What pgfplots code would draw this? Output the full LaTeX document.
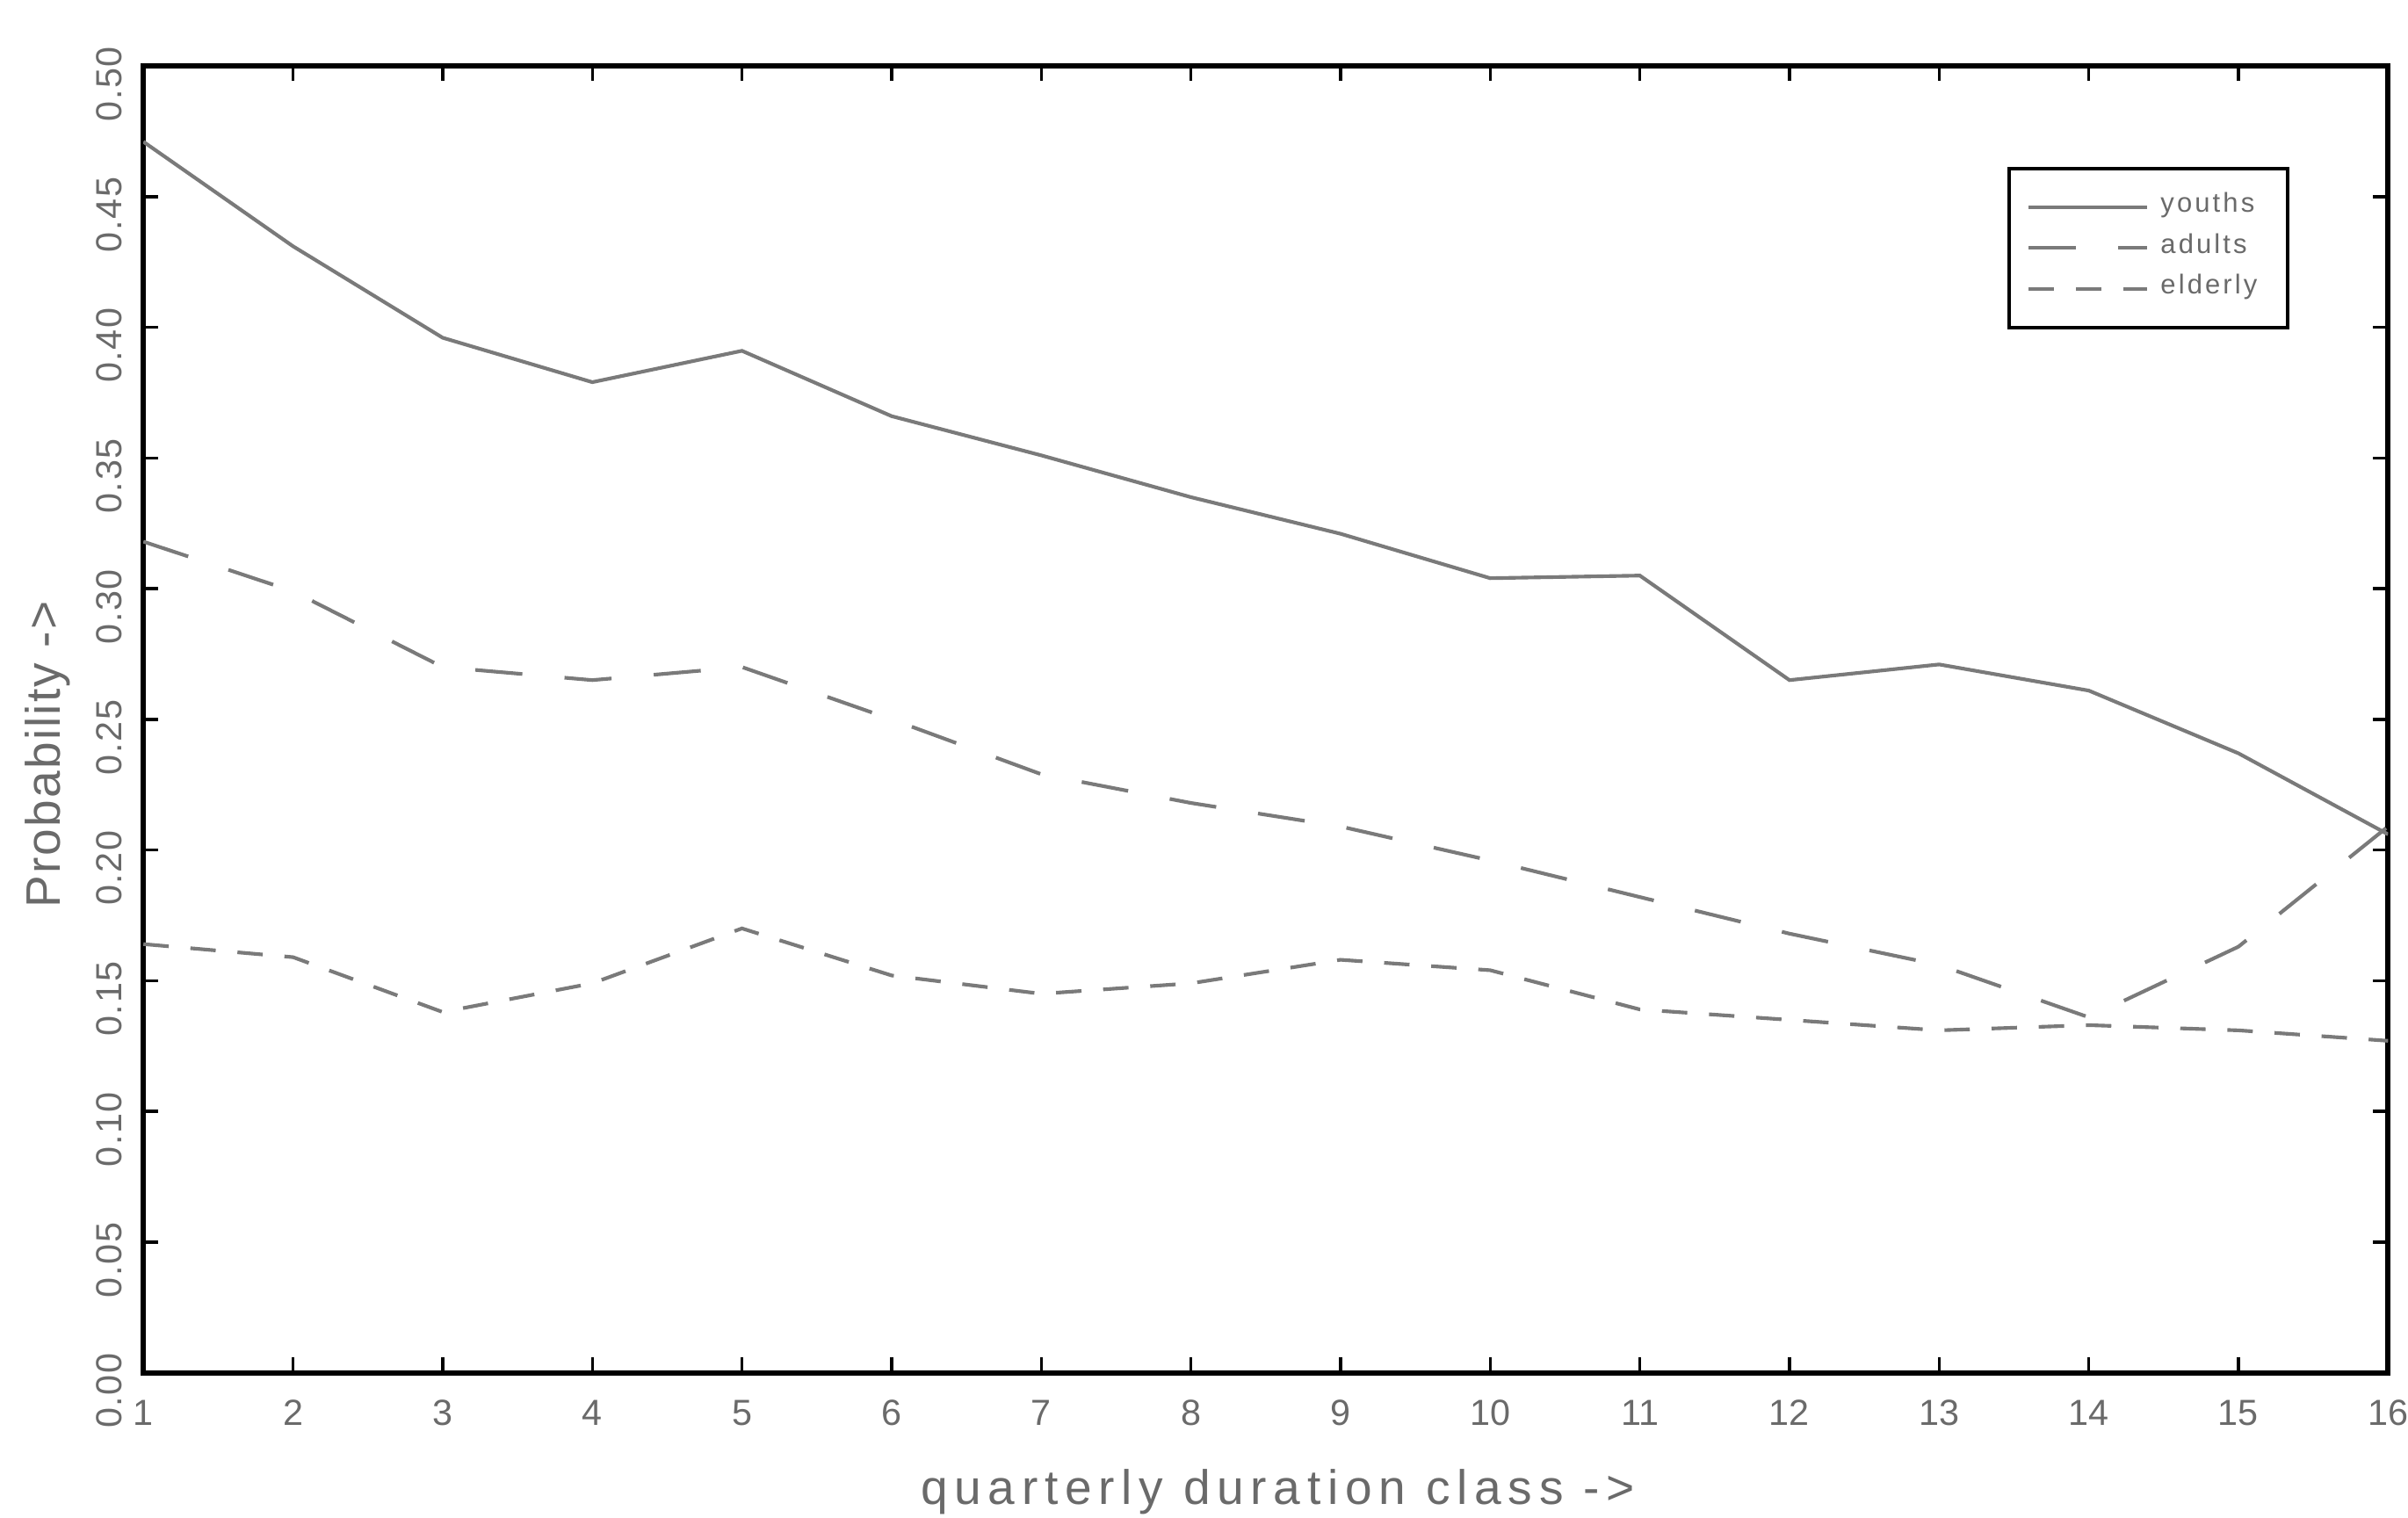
\documentclass[border=0pt]{standalone}
\usepackage{fontspec}
\setmainfont{Liberation Sans}
\usepackage{pgfplots}
\pgfplotsset{compat=1.18}
\definecolor{lgray}{HTML}{7A7A7A}
\definecolor{tgray}{HTML}{6A6A6A}
\begin{document}
\begin{tikzpicture}
\useasboundingbox (-23.7pt,-24pt) rectangle (374.3pt,226.9pt);
\begin{axis}[
  scale only axis,
  width=371pt, height=216pt,
  at={(0pt,0pt)}, anchor=south west,
  xmin=1, xmax=16, ymin=0, ymax=0.5,
  xtick={1,...,16},
  ytick={0,0.05,...,0.5},
  tick align=inside,
  major tick length=2.5pt,
  tick style={black, line width=0.5pt},
  axis line style={black, line width=0.9pt},
  /pgf/number format/assume math mode=true,
  yticklabel={\pgfmathprintnumber[fixed,fixed zerofill,precision=2]{\tick}},
  yticklabel style={rotate=90, anchor=south, xshift=-3pt, font=\fontsize{6}{7}\selectfont\addfontfeatures{LetterSpace=4}, text=tgray},
  xticklabel style={font=\fontsize{6}{7}\selectfont, text=tgray, yshift=-1pt},
  xlabel={quarterly duration class ->},
  ylabel={Probability ->},
  xlabel style={font=\fontsize{8}{9.5}\selectfont\addfontfeatures{LetterSpace=14}, text=tgray, yshift=-0.3pt, xshift=2pt},
  ylabel style={at={(ticklabel cs:0.473)}, font=\fontsize{8}{9.5}\selectfont\addfontfeatures{LetterSpace=4}, text=tgray, yshift=-2.5pt},
  legend cell align=left,
  legend style={at={(0.956,0.923)}, anchor=north east, draw=black, line width=0.6pt,
    font=\fontsize{4.5}{6}\selectfont\addfontfeatures{LetterSpace=10}, text=tgray, inner xsep=3pt, inner ysep=2pt,
    row sep=-2pt},
  legend image code/.code={\draw[#1] (0pt,0pt) -- (15.5pt,0pt); \path (0pt,0pt) -- (19.5pt,0pt);},
]
\addplot[lgray, line width=0.6pt] coordinates {
(1,0.471)(2,0.431)(3,0.396)(4,0.379)(5,0.391)(6,0.366)(7,0.351)(8,0.335)
(9,0.321)(10,0.304)(11,0.305)(12,0.265)(13,0.271)(14,0.261)(15,0.237)(16,0.206)};
\addlegendentry{youths}
\addplot[lgray, line width=0.6pt, dash pattern=on 7.8pt off 7pt] coordinates {
(1,0.318)(2,0.299)(3,0.270)(4,0.265)(5,0.270)(6,0.250)(7,0.229)(8,0.218)
(9,0.209)(10,0.196)(11,0.182)(12,0.168)(13,0.156)(14,0.136)(15,0.163)(16,0.209)};
\addlegendentry{adults}
\addplot[lgray, line width=0.6pt, dash pattern=on 4.2pt off 3.6pt] coordinates {
(1,0.164)(2,0.159)(3,0.138)(4,0.149)(5,0.170)(6,0.152)(7,0.145)(8,0.149)
(9,0.158)(10,0.154)(11,0.139)(12,0.135)(13,0.131)(14,0.133)(15,0.131)(16,0.127)};
\addlegendentry{elderly}
\end{axis}
\end{tikzpicture}
\end{document}
